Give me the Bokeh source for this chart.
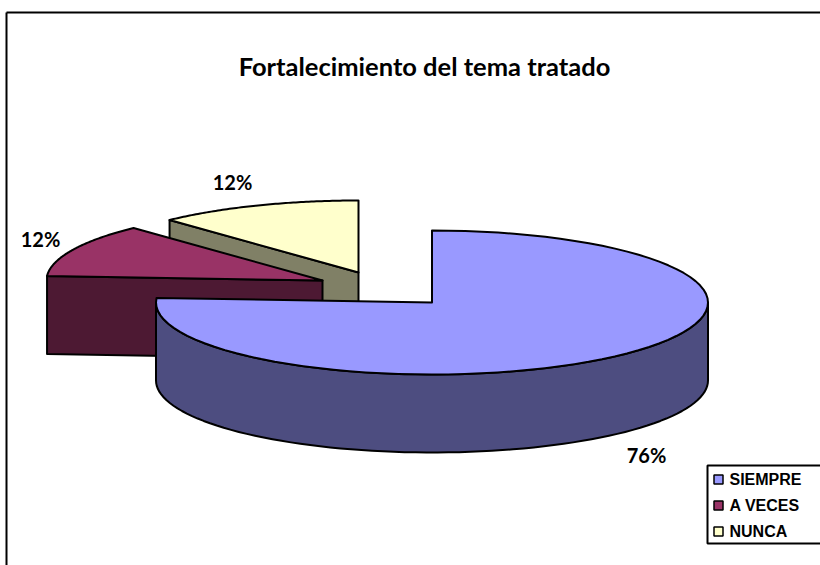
import numpy as np
from bokeh.plotting import figure
from bokeh.models import Range1d
from bokeh.core.properties import value
from bokeh.embed import file_html
from bokeh.resources import INLINE

TITLE = "Fortalecimiento del tema tratado"
categories = ["SIEMPRE", "A VECES", "NUNCA"]
shares = [76, 12, 12]
labels = ["76%", "12%", "12%"]
top_colors = ["#9999FF", "#993366", "#FFFFCC"]
side_colors = ["#4D4D80", "#4D1933", "#808066"]

# layout of the drawing, in page pixels
W, H = 820, 565
RX, RY, DEPTH = 276, 72, 78
APEX = [(431.5, 302), (322, 280), (358, 272)]
LABEL_POS = [(646, 454), (40, 238), (232, 181)]
LW = 2

p = figure(width=W, height=H, output_backend="svg", toolbar_location=None,
           x_range=Range1d(0, W), y_range=Range1d(H, 0), min_border=0)
p.axis.visible = False
p.grid.visible = False
p.outline_line_color = None

# frame
p.line([6, W + 10], [12, 12], line_color="black", line_width=2)
p.line([6, 6], [12, H + 10], line_color="black", line_width=2)


def rim(cx, cy, a0, a1, n=80):
    t = np.radians(np.linspace(a0, a1, n))
    return cx + RX * np.sin(t), cy - RY * np.cos(t)


# slice angles, clockwise from twelve o'clock
edges = np.concatenate([[0], np.cumsum(shares)]) * 360.0 / sum(shares)


def draw_slice(i):
    cx, cy = APEX[i]
    a0, a1 = edges[i], edges[i + 1]
    top, side = top_colors[i], side_colors[i]
    style = dict(line_color="black", line_width=LW, line_join="round")
    # cut face that runs from the rim back to the apex at the slice's start
    if i > 0:
        ex, ey = rim(cx, cy, a0, a0, 1)
        xs = [ex[0], cx, cx, ex[0]]
        ys = [ey[0], cy, cy + DEPTH, ey[0] + DEPTH]
        p.patch(xs, ys, fill_color=side, **style)
    # outer wall: only the part of the rim facing the viewer
    w0, w1 = max(a0, 90), min(a1, 270)
    if w0 < w1:
        wx, wy = rim(cx, cy, w0, w1)
        xs = np.concatenate([wx, wx[::-1]])
        ys = np.concatenate([wy, wy[::-1] + DEPTH])
        p.patch(xs, ys, fill_color=side, **style)
    # top face
    tx, ty = rim(cx, cy, a0, a1)
    p.patch(np.concatenate([[cx], tx]), np.concatenate([[cy], ty]),
            fill_color=top, **style)


for i in [2, 1, 0]:
    draw_slice(i)

# title and data labels
p.text([424], [65], text=[TITLE], text_font=value("Lato"), text_font_style="bold",
       text_font_size="25.5px", text_color="black", text_align="center", text_baseline="middle")
p.text([q[0] for q in LABEL_POS], [q[1] for q in LABEL_POS], text=labels,
       text_font=value("Lato"), text_font_style="bold", text_font_size="20px",
       text_color="black", text_align="center", text_baseline="middle")

# legend
BOX = (707, 465, W + 10, 543)
p.patch([BOX[0], BOX[2], BOX[2], BOX[0]], [BOX[1], BOX[1], BOX[3], BOX[3]],
        fill_color="white", line_color="black", line_width=2)
rows = [479, 505, 531]
p.scatter([718] * 3, rows, marker="square", size=9, fill_color=top_colors,
          line_color="black", line_width=1.5)
p.text([729] * 3, rows, text=categories, text_font=value("Liberation Sans"),
       text_font_style="bold", text_font_size="16px", text_color="black",
       text_align="left", text_baseline="middle")

open("out.html", "w").write(file_html(p, INLINE))
